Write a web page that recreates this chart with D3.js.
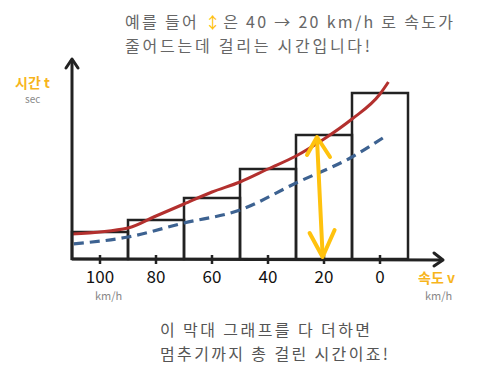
<!DOCTYPE html>
<html>
<head>
<meta charset="utf-8">
<script src="https://cdn.jsdelivr.net/npm/d3@7"></script>
<style>
  body { margin: 0; background: #fff; }
  svg { display: block; }
</style>
</head>
<body>
<div id="chart"></div>
<script>
// 1: DATA
const speedTicks = [100, 80, 60, 40, 20, 0];          // km/h, one bar per tick
const barTimes = [1.35, 1.95, 3.05, 4.5, 6.2, 8.3];   // bar heights (sec)
const redSpeeds = [110, 90, 80, 70, 60, 50, 40, 30, 20, 10, 0, -3];
const redTimes = [1.25, 1.55, 2.15, 2.75, 3.35, 3.85, 4.5, 5.15, 6.0, 7.0, 8.25, 8.85];
const blueSpeeds = [110, 90, 70, 50, 30, 10, -1];
const blueTimes = [0.75, 1.1, 1.8, 2.45, 3.8, 5.1, 6.05];
const arrowSpeeds = [22.5, 20.5];
const arrowTimes = [6.1, 0.1];

const titleLines = ["예를 들어 ", "↕", "은 40 → 20 km/h 로 속도가"];
const titleLine2 = "줄어드는데  걸리는 시간입니다!";
const bottomLines = ["이 막대 그래프를 다 더하면", "멈추기까지 총 걸린 시간이죠!"];

// 2: SVG
const W = 481, H = 380;
const svg = d3.select("#chart").append("svg")
    .attr("width", W)
    .attr("height", H);

const font = "'Noto Sans CJK KR', 'Noto Sans', sans-serif";
const ink = "#222";

// 3: SCALES
const x = d3.scaleLinear().domain([110, -22.5]).range([72, 443]);
const y = d3.scaleLinear().domain([0, 10]).range([259, 59]);

// 4: BARS
svg.selectAll(".bar")
    .data(speedTicks)
    .enter()
    .append("rect")
    .attr("class", "bar")
    .attr("x", d => x(d + 10))
    .attr("width", d => x(d - 10) - x(d + 10))
    .attr("y", (d, i) => y(barTimes[i]))
    .attr("height", (d, i) => y(0) - y(barTimes[i]))
    .style("fill", "none")
    .style("stroke", ink)
    .style("stroke-width", 2.5);

// 5: CURVES
const line = d3.line()
    .x(d => x(d[0]))
    .y(d => y(d[1]))
    .curve(d3.curveMonotoneX);

svg.append("path")
    .attr("d", line(blueSpeeds.map((s, i) => [s, blueTimes[i]]).reverse()))
    .style("fill", "none")
    .style("stroke", "#3d6291")
    .style("stroke-width", 3.2)
    .style("stroke-dasharray", "10,6");

svg.append("path")
    .attr("d", line(redSpeeds.map((s, i) => [s, redTimes[i]]).reverse()))
    .style("fill", "none")
    .style("stroke", "#b3302e")
    .style("stroke-width", 3);

// 6: AXES (hand-drawn look: plain lines with open arrowheads)
svg.append("line")
    .attr("x1", x(110)).attr("y1", y(0) + 1)
    .attr("x2", x(110)).attr("y2", 60)
    .style("stroke", ink).style("stroke-width", 3);
svg.append("path")
    .attr("d", `M${x(110) - 6},${68} L${x(110)},${59} L${x(110) + 6},${68}`)
    .style("fill", "none").style("stroke", ink).style("stroke-width", 3)
    .style("stroke-linecap", "round").style("stroke-linejoin", "round");

svg.append("line")
    .attr("x1", x(110)).attr("y1", y(0))
    .attr("x2", 443).attr("y2", y(0) + 1)
    .style("stroke", ink).style("stroke-width", 3);
svg.append("path")
    .attr("d", `M434,${y(0) - 6} L443,${y(0) + 1} L434,${y(0) + 7}`)
    .style("fill", "none").style("stroke", ink).style("stroke-width", 3)
    .style("stroke-linecap", "round").style("stroke-linejoin", "round");

// ticks and tick labels
svg.selectAll(".tick")
    .data(speedTicks)
    .enter()
    .append("line")
    .attr("x1", d => x(d)).attr("x2", d => x(d))
    .attr("y1", y(0) - 4).attr("y2", y(0) + 5)
    .style("stroke", ink).style("stroke-width", 2.5);

svg.selectAll(".tick-label")
    .data(speedTicks)
    .enter()
    .append("text")
    .attr("x", d => x(d))
    .attr("y", 283)
    .style("text-anchor", "middle")
    .style("font-family", font)
    .style("font-size", "17px")
    .style("fill", "#111")
    .text(d => d);

// 7: YELLOW DOUBLE ARROW
const ax0 = x(arrowSpeeds[0]), ay0 = y(arrowTimes[0]);
const ax1 = x(arrowSpeeds[1]), ay1 = y(arrowTimes[1]);
const gold = "#ffc20e";
svg.append("line")
    .attr("x1", ax0).attr("y1", ay0 + 2)
    .attr("x2", ax1).attr("y2", ay1 - 2)
    .style("stroke", gold).style("stroke-width", 4).style("stroke-linecap", "round");
svg.append("path")
    .attr("d", `M${ax0 - 10},${ay0 + 18} L${ax0},${ay0} L${ax0 + 13},${ay0 + 20}`)
    .style("fill", "none").style("stroke", gold).style("stroke-width", 4)
    .style("stroke-linecap", "round").style("stroke-linejoin", "round");
svg.append("path")
    .attr("d", `M${ax1 - 13},${ay1 - 24} L${ax1},${ay1} L${ax1 + 12},${ay1 - 27}`)
    .style("fill", "none").style("stroke", gold).style("stroke-width", 4)
    .style("stroke-linecap", "round").style("stroke-linejoin", "round");

// 8: LABELS
svg.append("text")
    .attr("x", 15).attr("y", 88)
    .style("font-family", font).style("font-size", "14px").style("font-weight", "bold")
    .style("fill", "#f7b51c")
    .text("시간 t");
svg.append("text")
    .attr("x", 25).attr("y", 103)
    .style("font-family", font).style("font-size", "10px")
    .style("fill", "#888")
    .text("sec");

svg.append("text")
    .attr("x", 418).attr("y", 283)
    .style("font-family", font).style("font-size", "14px").style("font-weight", "bold")
    .style("fill", "#f7b51c")
    .text("속도 v");
svg.append("text")
    .attr("x", 425).attr("y", 300)
    .style("font-family", font).style("font-size", "11px")
    .style("fill", "#888")
    .text("km/h");
svg.append("text")
    .attr("x", 95).attr("y", 300)
    .style("font-family", font).style("font-size", "11px")
    .style("fill", "#888")
    .text("km/h");

// title
const t1 = svg.append("text")
    .attr("x", 125).attr("y", 28)
    .attr("textLength", 328).attr("lengthAdjust", "spacing")
    .style("font-family", font).style("font-size", "16px")
    .style("fill", "#666");
titleLines.forEach((s, i) => {
    t1.append("tspan")
        .style("fill", i === 1 ? gold : "#666")
        .text(s);
});
svg.append("text")
    .attr("x", 125).attr("y", 52)
    .attr("textLength", 245).attr("lengthAdjust", "spacing")
    .style("font-family", font).style("font-size", "16px")
    .style("fill", "#666")
    .text(titleLine2);

// bottom note
const bottomWidths = [210, 228];
bottomLines.forEach((s, i) => {
    svg.append("text")
        .attr("x", 160).attr("y", 336 + i * 24)
        .attr("textLength", bottomWidths[i]).attr("lengthAdjust", "spacing")
        .style("font-family", font).style("font-size", "16px")
        .style("fill", "#555")
        .text(s);
});
</script>
</body>
</html>
